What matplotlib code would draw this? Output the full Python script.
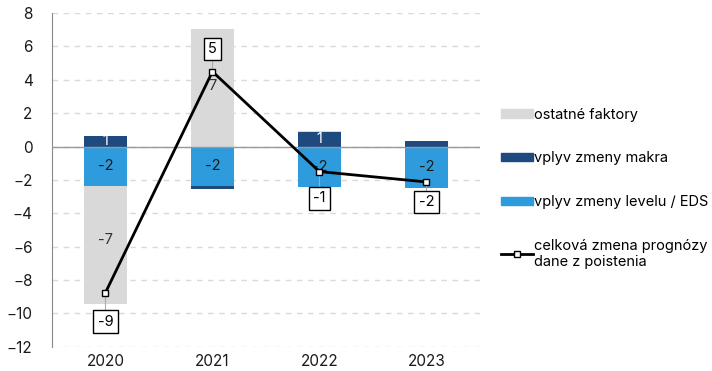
import matplotlib.pyplot as plt
import numpy as np
from matplotlib.patches import Patch
from matplotlib.lines import Line2D

plt.rcParams['font.family'] = ['Inter', 'DejaVu Sans']

years = ["2020", "2021", "2022", "2023"]
makro = [0.66, -0.2, 0.9, 0.32]
level_eds = [-2.34, -2.37, -2.44, -2.47]
ostatne = [-7.07, 7.07, 0.04, 0.03]
celkova = [-8.75, 4.49, -1.5, -2.12]

makro_lbl = ["1", "", "1", ""]
level_lbl = ["-2", "-2", "-2", "-2"]
ostatne_lbl = ["-7", "7", "", ""]
celkova_lbl = ["-9", "5", "-1", "-2"]

c_gray = "#d9d9d9"
c_dark = "#1f4a80"
c_light = "#2e9bdc"

fig = plt.figure(figsize=(7.12, 3.71), dpi=100)
ax = fig.add_axes([0.073, 0.065, 0.601, 0.9])

x = np.arange(len(years))
w = 0.4

# stacking: positives and negatives separately
pos_base = np.zeros(len(years))
neg_base = np.zeros(len(years))
rects = {}
for name, vals, col in [("level", level_eds, c_light), ("makro", makro, c_dark), ("ostatne", ostatne, c_gray)]:
    vals = np.array(vals)
    bottoms = np.where(vals >= 0, pos_base, neg_base)
    ax.bar(x, vals, w, bottom=bottoms, color=col, zorder=2)
    rects[name] = (bottoms, vals)
    pos_base = pos_base + np.where(vals >= 0, vals, 0)
    neg_base = neg_base + np.where(vals < 0, vals, 0)

for i in range(len(years)):
    b, v = rects["makro"][0][i], rects["makro"][1][i]
    if makro_lbl[i]:
        ax.text(x[i], b + v / 2, makro_lbl[i], ha="center", va="center", color="white", fontsize=10.5, zorder=3)
    b, v = rects["level"][0][i], rects["level"][1][i]
    ax.text(x[i], b + v / 2, level_lbl[i], ha="center", va="center", color="#1a1a1a", fontsize=10.5, zorder=3)
    b, v = rects["ostatne"][0][i], rects["ostatne"][1][i]
    if ostatne_lbl[i]:
        ty = 3.6 if v > 0 else b + v / 2 + 0.3
        ax.text(x[i], ty, ostatne_lbl[i], ha="center", va="center",
                color="#333333", fontsize=10.5, zorder=3)

ax.plot(x, celkova, color="black", lw=2, marker="s", ms=5, mfc="white", mec="black", mew=1,
        zorder=5)

offsets = [-1.75, 1.35, -1.6, -1.2]
for i in range(len(years)):
    ty = celkova[i] + offsets[i]
    ax.plot([x[i], x[i]], [celkova[i], ty], color="#aaaaaa", lw=0.8, zorder=4)
    ax.text(x[i], ty, celkova_lbl[i], ha="center", va="center", fontsize=10.5, zorder=6,
            bbox=dict(boxstyle="square,pad=0.3", fc="white", ec="black", lw=1))

ax.axhline(0, color="#999999", lw=1, zorder=3)
ax.set_xlim(-0.5, 3.5)
ax.set_ylim(-12, 8)
ax.set_yticks(range(-12, 9, 2))
ax.set_xticks(x)
ax.set_xticklabels(years)
ax.yaxis.grid(True, linestyle=(0, (4, 4)), color="#d9d9d9", lw=1)
ax.set_axisbelow(True)
for s in ["top", "right", "bottom"]:
    ax.spines[s].set_visible(False)
ax.spines["left"].set_color("#888888")
ax.tick_params(axis="both", length=0, labelsize=11, colors="#1a1a1a")
ax.tick_params(axis="y", pad=14)
ax.tick_params(axis="x", pad=5)

handles = [Patch(color=c_gray), Patch(color=c_dark), Patch(color=c_light),
           Line2D([], [], color="black", lw=2, marker="s", ms=5, mfc="white", mec="black")]
labels = ["ostatné faktory", "vplyv zmeny makra", "vplyv zmeny levelu / EDS",
          "celková zmena prognózy\ndane z poistenia"]
fig.legend(handles, labels, loc="upper left", bbox_to_anchor=(0.685, 0.745), frameon=False,
           fontsize=10.5, handlelength=2.2, handleheight=0.5, handletextpad=0.1, labelspacing=2.03)

fig.savefig("out.png", dpi=100)
